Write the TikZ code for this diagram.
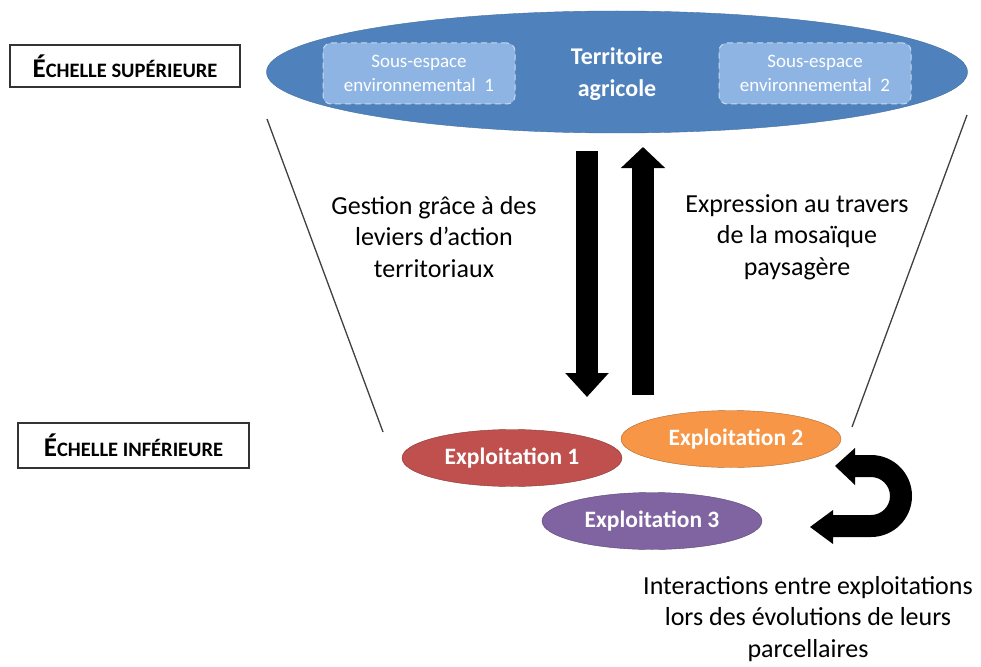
\documentclass[tikz,border=0pt]{standalone}
\usepackage{fontspec}
\setmainfont{Carlito}
\usetikzlibrary{shapes.geometric,arrows.meta,calc,positioning}
\definecolor{bleuterr}{HTML}{4F81BD}
\definecolor{bleubord}{HTML}{41719C}
\definecolor{bleuclair}{HTML}{8EB4E3}
\definecolor{tiretclair}{HTML}{C6D9F1}
\definecolor{rouge}{HTML}{C0504D}
\definecolor{orange}{HTML}{F79646}
\definecolor{violet}{HTML}{8064A2}
\newcommand\petcap[1]{{\fontsize{20.5}{20.5}\selectfont #1}}

\begin{document}
\begin{tikzpicture}[x=1pt,y=-1pt,
  echelle/.style={draw=black!80,line width=1.5pt,inner sep=0pt,font=\bfseries\fontsize{27}{27}\selectfont},
  exploit/.style={ellipse,draw=#1!70!black,fill=#1,minimum width=220pt,minimum height=57pt,inner sep=0pt,text=white,font=\bfseries\fontsize{23.5}{26}\selectfont},
  sousesp/.style={draw=tiretclair,fill=bleuclair,dash pattern=on 6pt off 4pt,line width=1pt,rounded corners=8pt,minimum width=192pt,minimum height=61pt,inner sep=0pt,align=center,text=white,font=\fontsize{19}{24}\selectfont},
  legende/.style={align=center,font=\fontsize{26}{31.5}\selectfont},
  fleche/.style={line width=22pt,-{Triangle[width=42pt,length=24pt]}},
  bord/.style={draw=black!75,line width=1.3pt}]
\useasboundingbox (0,0) rectangle (981,666);

% echelles
\node[echelle,minimum width=230pt,minimum height=42pt] (sup) at (125,66) {É\petcap{CHELLE SUPÉRIEURE}};
\node[echelle,minimum width=231pt,minimum height=45pt] (inf) at (133.5,445.5) {É\petcap{CHELLE INFÉRIEURE}};

% territoire
\node[ellipse,draw=bleubord,fill=bleuterr,minimum width=701pt,minimum height=122pt,inner sep=0pt] (terr) at (617,72) {};
\node[align=center,text=white,font=\bfseries\fontsize{24}{32}\selectfont] (terrtxt) at (617,74) {Territoire\\agricole};
\node[sousesp] (se1) at (419,73.5) {Sous-espace\\environnemental\ \ 1};
\node[sousesp] (se2) at (815,73.5) {Sous-espace\\environnemental\ \ 2};

% entonnoir
\coordinate (hg) at (267,119);
\coordinate (bg) at (383,432);
\coordinate (hd) at (967,115);
\coordinate (bd) at (852,427);
\draw[bord] (hg) -- (bg);
\draw[bord] (hd) -- (bd);

% fleches verticales
\coordinate (desc1) at (587,151);
\coordinate (desc2) at (587,397);
\coordinate (mont1) at (643,395);
\coordinate (mont2) at (643,147);
\draw[fleche] (desc1) -- (desc2);
\draw[fleche,-{Triangle[width=43pt,length=21pt]}] (mont1) -- (mont2);

\node[legende] (gest) at (434,237) {Gestion grâce à des\\leviers d’action\\territoriaux};
\node[legende] (expr) at (797,237) {Expression au travers\\de la mosaïque\\paysagère};

% exploitations
\node[exploit=rouge] (ex1) at (512,458) {Exploitation 1};
\node[exploit=orange] (ex2) at (731,439) {\hspace{10pt}Exploitation 2};
\node[exploit=violet] (ex3) at (652,521) {Exploitation 3};

% demi-tour
\fill (835,466) -- (855,448) -- (855,455) -- (871,455)
  arc[start angle=-90,end angle=90,radius=41] -- (833,537) -- (833,544)
  -- (810,527) -- (833,510) -- (833,515) -- (871,515)
  arc[start angle=90,end angle=-90,radius=19] -- (855,477) -- (855,485) -- cycle;

\node[legende] (inter) at (808,619) {Interactions entre exploitations\\lors des évolutions de leurs\\parcellaires};
\end{tikzpicture}
\end{document}
